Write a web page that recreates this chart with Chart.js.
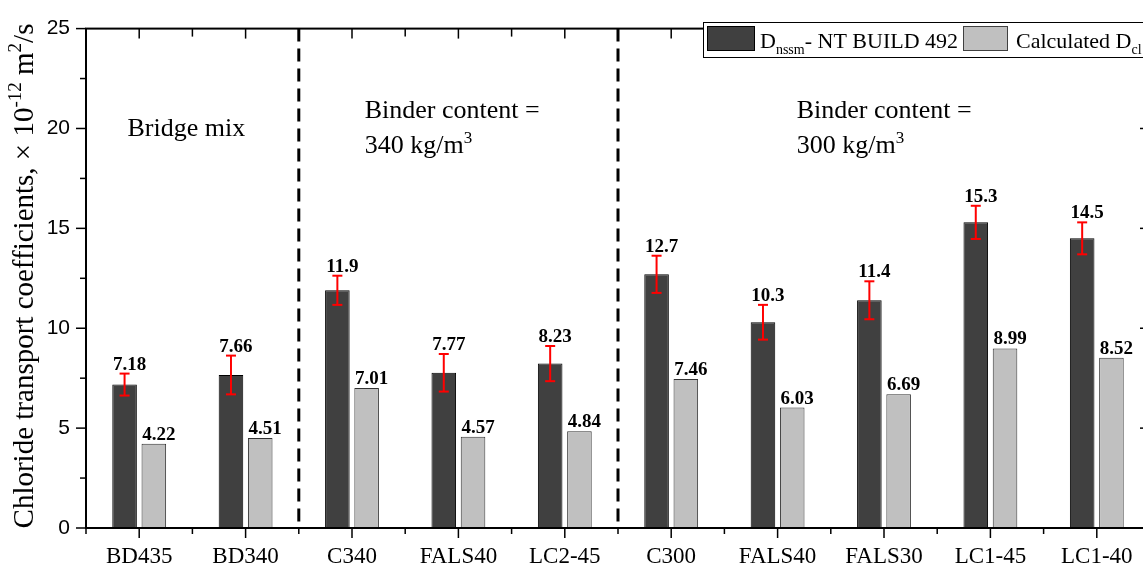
<!DOCTYPE html>
<html>
<head>
<meta charset="utf-8">
<script src="https://cdn.jsdelivr.net/npm/chart.js@4.4.1/dist/chart.umd.min.js"></script>
<style>
  html, body { margin: 0; padding: 0; background: #fff; overflow: hidden; }
  #wrap { width: 1160px; height: 567px; position: relative; }
</style>
</head>
<body>
<div id="wrap"><canvas id="chart"></canvas></div>
<script>
const categories = ['BD435', 'BD340', 'C340', 'FALS40', 'LC2-45', 'C300', 'FALS40', 'FALS30', 'LC1-45', 'LC1-40'];
const nssm = [7.18, 7.66, 11.9, 7.77, 8.23, 12.7, 10.3, 11.4, 15.3, 14.5];
const nssmErr = [0.55, 0.97, 0.73, 0.94, 0.88, 0.93, 0.87, 0.95, 0.83, 0.8];
const calcDcl = [4.22, 4.51, 7.01, 4.57, 4.84, 7.46, 6.03, 6.69, 8.99, 8.52];
const nssmText = ['7.18', '7.66', '11.9', '7.77', '8.23', '12.7', '10.3', '11.4', '15.3', '14.5'];
const calcText = ['4.22', '4.51', '7.01', '4.57', '4.84', '7.46', '6.03', '6.69', '8.99', '8.52'];
const yTicks = [0, 5, 10, 15, 20, 25];
const groupBreaks = [1.5, 4.5];

const serif = '"Liberation Serif", "Times New Roman", serif';
const sans = '"Liberation Sans", Arial, sans-serif';

// draw text with sub/superscripts, returns width
function rich(ctx, x, y, parts, size, draw = true) {
  let cx = x;
  for (const p of parts) {
    const s = p.sup || p.sub ? Math.round(size * 0.64) : size;
    ctx.font = s + 'px ' + serif;
    const dy = p.sup ? -size * 0.4 : p.sub ? size * 0.25 : 0;
    if (draw) ctx.fillText(p.t, cx, y + dy);
    cx += ctx.measureText(p.t).width;
  }
  return cx - x;
}

function seg(ctx, x1, y1, x2, y2) {
  ctx.beginPath();
  ctx.moveTo(x1, y1);
  ctx.lineTo(x2, y2);
  ctx.stroke();
}

const extras = {
  id: 'extras',
  afterDraw(chart) {
    const { ctx, chartArea: a, scales: { x, y } } = chart;
    ctx.save();
    ctx.strokeStyle = '#000';
    ctx.fillStyle = '#000';

    // frame
    ctx.lineWidth = 2;
    ctx.strokeRect(a.left, a.top, a.right - a.left, a.bottom - a.top);

    // y ticks
    ctx.lineWidth = 1.5;
    for (let v = 0; v <= 25; v += 2.5) {
      const py = y.getPixelForValue(v);
      const major = v % 5 === 0;
      seg(ctx, a.left - (major ? 10 : 6), py, a.left, py);
      seg(ctx, a.right - (major ? 10 : 6), py, a.right, py);
    }
    // x ticks
    for (let i = 0; i < categories.length; i++) {
      const px = x.getPixelForValue(i);
      seg(ctx, px, a.bottom, px, a.bottom + 10);
      seg(ctx, px, a.top, px, a.top + 10);
    }
    for (let i = 0; i <= categories.length; i++) {
      const px = x.getPixelForValue(i - 0.5);
      seg(ctx, px, a.bottom, px, a.bottom + 6);
      seg(ctx, px, a.top, px, a.top + 8);
    }

    // dashed group separators
    ctx.lineWidth = 3;
    ctx.setLineDash([13, 7]);
    for (const b of groupBreaks) {
      const px = x.getPixelForValue(b);
      seg(ctx, px, a.top, px, a.bottom);
    }
    ctx.setLineDash([]);

    // error bars + value labels
    const m0 = chart.getDatasetMeta(0), m1 = chart.getDatasetMeta(1);
    ctx.font = 'bold 19px ' + serif;
    ctx.textAlign = 'center';
    ctx.textBaseline = 'alphabetic';
    m0.data.forEach((bar, i) => {
      const hi = y.getPixelForValue(nssm[i] + nssmErr[i]);
      const lo = y.getPixelForValue(nssm[i] - nssmErr[i]);
      ctx.strokeStyle = '#ff0000';
      ctx.lineWidth = 2;
      seg(ctx, bar.x, hi, bar.x, lo);
      seg(ctx, bar.x - 5, hi, bar.x + 5, hi);
      seg(ctx, bar.x - 5, lo, bar.x + 5, lo);
      ctx.fillText(nssmText[i], bar.x + 5, hi - 4);
    });
    m1.data.forEach((bar, i) => {
      ctx.fillText(calcText[i], bar.x + 5, bar.y - 4);
    });

    // group annotations
    ctx.textAlign = 'left';
    ctx.font = '26px ' + serif;
    ctx.fillText('Bridge mix', x.getPixelForValue(-0.11), y.getPixelForValue(19.6));
    ctx.fillText('Binder content =', x.getPixelForValue(2.12), y.getPixelForValue(20.53));
    rich(ctx, x.getPixelForValue(2.12), y.getPixelForValue(18.77), [{ t: '340 kg/m' }, { t: '3', sup: true }], 26);
    ctx.font = '26px ' + serif;
    ctx.fillText('Binder content =', x.getPixelForValue(6.18), y.getPixelForValue(20.53));
    rich(ctx, x.getPixelForValue(6.18), y.getPixelForValue(18.77), [{ t: '300 kg/m' }, { t: '3', sup: true }], 26);

    // legend
    const lt = 22, lb = 57, ll = 703;
    ctx.fillStyle = '#fff';
    ctx.fillRect(ll, lt, a.right - ll + 5, lb - lt);
    ctx.strokeStyle = '#000';
    ctx.lineWidth = 1;
    ctx.strokeRect(ll + 0.5, lt + 0.5, a.right - ll + 5, lb - lt);
    const ds = chart.data.datasets;
    ctx.fillStyle = ds[0].backgroundColor;
    ctx.fillRect(707, 26, 48, 25);
    ctx.strokeStyle = '#000';
    ctx.strokeRect(707.5, 26.5, 47, 24);
    ctx.fillStyle = ds[1].backgroundColor;
    ctx.fillRect(963, 26, 45, 25);
    ctx.strokeStyle = '#404040';
    ctx.strokeRect(963.5, 26.5, 44, 24);
    ctx.fillStyle = '#000';
    rich(ctx, 760, 48, [{ t: 'D' }, { t: 'nssm', sub: true }, { t: '- NT BUILD 492' }], 22);
    rich(ctx, 1016, 48, [{ t: 'Calculated D' }, { t: 'cl', sub: true }], 22);

    // y axis title
    const title = [{ t: 'Chloride transport coefficients, \u00d7 10' }, { t: '-12', sup: true }, { t: ' m' }, { t: '2', sup: true }, { t: '/s' }];
    ctx.save();
    ctx.translate(33, 276);
    ctx.rotate(-Math.PI / 2);
    const w = rich(ctx, 0, 0, title, 29, false);
    rich(ctx, -w / 2, 0, title, 29);
    ctx.restore();

    ctx.restore();
  }
};

new Chart(document.getElementById('chart'), {
  type: 'bar',
  data: {
    labels: categories,
    datasets: [{
      label: 'Dnssm- NT BUILD 492',
      data: nssm,
      backgroundColor: '#404040',
      borderColor: '#000000',
      borderWidth: 1,
      categoryPercentage: 0.55,
      barPercentage: 0.84
    }, {
      label: 'Calculated Dcl',
      data: calcDcl,
      backgroundColor: '#c0c0c0',
      borderColor: '#333333',
      borderWidth: 1,
      categoryPercentage: 0.55,
      barPercentage: 0.84
    }]
  },
  options: {
    responsive: true,
    maintainAspectRatio: false,
    animation: false,
    layout: { padding: { left: 0, right: 10, top: 16, bottom: 0 } },
    plugins: {
      legend: { display: false },
      tooltip: { enabled: false }
    },
    scales: {
      x: {
        grid: { display: false, drawTicks: false },
        border: { display: false },
        ticks: { color: '#000', font: { family: serif, size: 23 }, padding: 15, maxRotation: 0, autoSkip: false },
        afterFit(s) { s.height = 39; }
      },
      y: {
        min: 0,
        max: 25,
        grid: { display: false, drawTicks: false },
        border: { display: false },
        ticks: { color: '#000', font: { family: sans, size: 21 }, padding: 16 },
        afterBuildTicks(s) { s.ticks = yTicks.map(v => ({ value: v })); },
        afterFit(s) { s.width = 86; }
      }
    }
  },
  plugins: [extras]
});
</script>
</body>
</html>
